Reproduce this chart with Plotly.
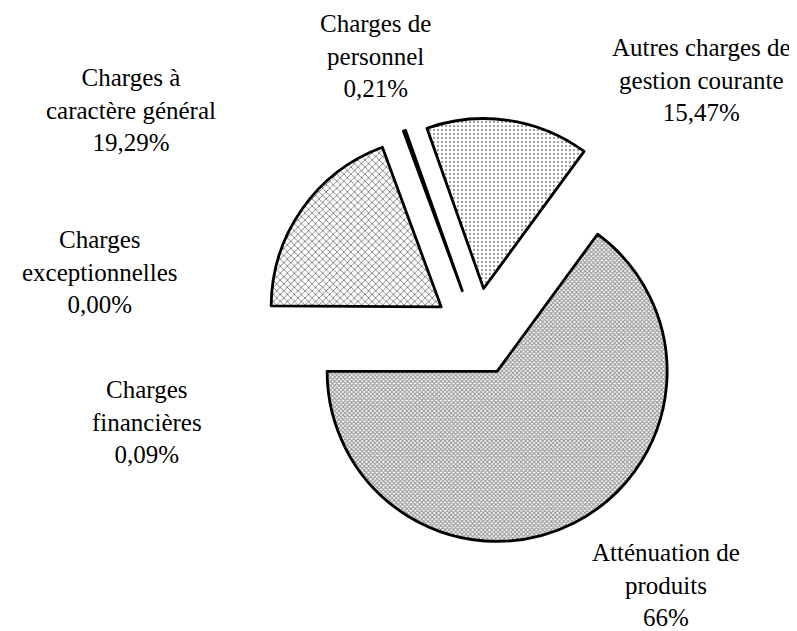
import plotly.graph_objects as go

# Data (clockwise from the first slice)
labels = ["Atténuation de<br>produits", "Charges<br>financières", "Charges<br>exceptionnelles",
          "Charges à<br>caractère général", "Charges de<br>personnel",
          "Autres charges de<br>gestion courante"]
values = [64.94, 0.09, 0.00, 19.29, 0.21, 15.47]
pct_text = ["66%", "0,09%", "0,00%", "19,29%", "0,21%", "15,47%"]

# styling
shapes = ["x", "", "", "x", "", "."]
pat_size = [3, 6, 6, 5, 6, 4]
pat_sol = [0.6, 0.1, 0.1, 0.32, 0.1, 0.2]
pat_fg = ["#333333", "black", "black", "black", "black", "black"]
line_w = [2.8, 0, 0, 2.8, 2.8, 2.8]

W, H = 797, 631
cx, cy, R, pull = 469.2, 324.1, 170.0, 0.259
half = R * (1 + pull)

fig = go.Figure(go.Pie(
    labels=labels,
    values=values,
    sort=False,
    direction="clockwise",
    rotation=36.22,
    pull=[pull] * len(values),
    textinfo="none",
    showlegend=False,
    hoverinfo="label+value",
    marker=dict(
        colors=["white"] * len(values),
        line=dict(color="black", width=line_w),
        pattern=dict(shape=shapes, size=pat_size, solidity=pat_sol,
                     fgcolor=pat_fg, bgcolor="white", fillmode="overlay"),
    ),
    domain=dict(x=[(cx - half) / W, (cx + half) / W],
                y=[1 - (cy + half) / H, 1 - (cy - half) / H]),
))

# label positions (pixel centre of middle line)
label_pos = [(658, 577), (139, 414), (92, 264), (123, 102), (367, 48), (693, 72)]
for lab, pct, (px, py) in zip(labels, pct_text, label_pos):
    fig.add_annotation(
        x=px / W, y=1 - py / H, xref="paper", yref="paper",
        text=f"{lab}<br>{pct}", showarrow=False,
        xanchor="center", yanchor="middle", align="center",
        font=dict(family="Liberation Serif", size=25, color="black"),
    )

fig.update_layout(
    width=W, height=H,
    margin=dict(l=0, r=0, t=0, b=0),
    paper_bgcolor="white", plot_bgcolor="white",
)

fig.write_html("out.html")
